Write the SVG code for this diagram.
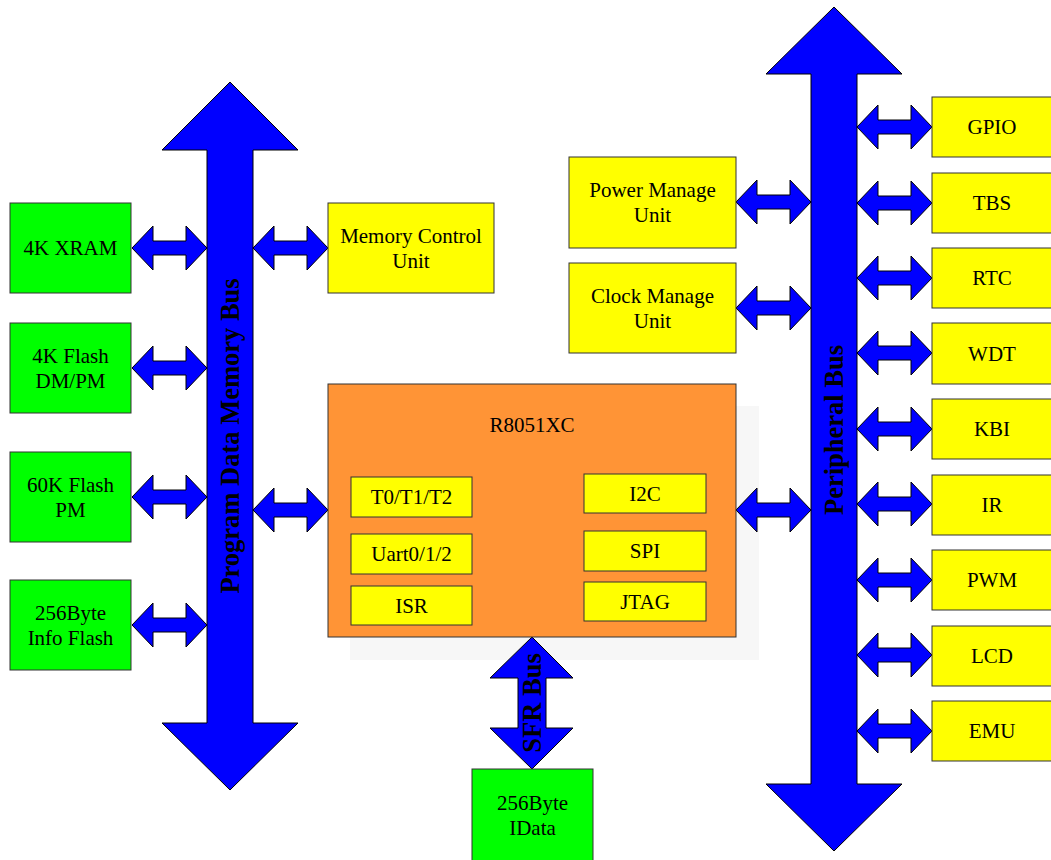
<svg xmlns="http://www.w3.org/2000/svg" xmlns:xlink="http://www.w3.org/1999/xlink" width="1051" height="860" viewBox="0 0 1051 860">
<style>
  .bus { fill: #0000ff; stroke: #000; stroke-width: 1; }
  .g { fill: #00ff00; stroke: #333; stroke-width: 1; }
  .y { fill: #ffff00; stroke: #333; stroke-width: 1; }
  .core { fill: #ff9436; stroke: #333; stroke-width: 1; }
  .t { font-family: "Liberation Serif", "Times New Roman", serif; font-size: 21px; fill: #000; text-anchor: middle; }
  .bt { font-family: "Liberation Serif", "Times New Roman", serif; font-size: 26.5px; font-weight: bold; fill: #000; text-anchor: middle; }
</style>
<defs>
  <path id="dbl" class="bus" d="M0,0 L21,-22 L21,-7 L54,-7 L54,-22 L75,0 L54,22 L54,7 L21,7 L21,22 Z"/>
</defs>
<rect width="1051" height="860" fill="#fff"/>

<g id="shadow">
  <rect x="350" y="406" width="409" height="254" fill="#f7f7f7"/>
</g>

<g id="connectors">
  <use xlink:href="#dbl" x="132" y="248"/>
  <use xlink:href="#dbl" x="132" y="368"/>
  <use xlink:href="#dbl" x="132" y="497"/>
  <use xlink:href="#dbl" x="132" y="625"/>
  <use xlink:href="#dbl" x="253" y="248"/>
  <use xlink:href="#dbl" x="253" y="510"/>
  <use xlink:href="#dbl" x="736" y="202"/>
  <use xlink:href="#dbl" x="736" y="308"/>
  <use xlink:href="#dbl" x="736" y="510"/>
  <use xlink:href="#dbl" x="857" y="127"/>
  <use xlink:href="#dbl" x="857" y="203"/>
  <use xlink:href="#dbl" x="857" y="278"/>
  <use xlink:href="#dbl" x="857" y="353"/>
  <use xlink:href="#dbl" x="857" y="429"/>
  <use xlink:href="#dbl" x="857" y="504"/>
  <use xlink:href="#dbl" x="857" y="580"/>
  <use xlink:href="#dbl" x="857" y="655"/>
  <use xlink:href="#dbl" x="857" y="731"/>
</g>

<g id="program-bus">
  <path class="bus" d="M230,82 L298,150 L253,150 L253,723 L298,723 L230,790 L162,723 L207,723 L207,150 L162,150 Z"/>
  <text class="bt" transform="translate(230,436) rotate(-90)" x="0" y="9">Program Data Memory Bus</text>
</g>

<g id="peripheral-bus">
  <path class="bus" d="M834,7 L902,74 L857,74 L857,784 L902,784 L834,851 L766,784 L811,784 L811,74 L766,74 Z"/>
  <text class="bt" transform="translate(834,430) rotate(-90)" x="0" y="9">Peripheral Bus</text>
</g>

<g id="sfr-bus">
  <path class="bus" d="M532,637 L573,678 L546,678 L546,728 L573,728 L532,769 L490,728 L518,728 L518,678 L490,678 Z"/>
  <text class="bt" transform="translate(532,703) rotate(-90)" x="0" y="9">SFR Bus</text>
</g>

<g id="xram">
  <rect class="g" x="10" y="203" width="121" height="90"/>
  <text class="t" x="70.5" y="255">4K XRAM</text>
</g>
<g id="flash4k">
  <rect class="g" x="10" y="323" width="121" height="90"/>
  <text class="t" x="70.5" y="362.5">4K Flash</text>
  <text class="t" x="70.5" y="387.5">DM/PM</text>
</g>
<g id="flash60k">
  <rect class="g" x="10" y="452" width="121" height="90"/>
  <text class="t" x="70.5" y="491.5">60K Flash</text>
  <text class="t" x="70.5" y="516.5">PM</text>
</g>
<g id="infoflash">
  <rect class="g" x="10" y="580" width="121" height="90"/>
  <text class="t" x="70.5" y="619.5">256Byte</text>
  <text class="t" x="70.5" y="644.5">Info Flash</text>
</g>

<g id="memctrl">
  <rect class="y" x="328" y="203" width="166" height="90"/>
  <text class="t" x="411" y="242.5">Memory Control</text>
  <text class="t" x="411" y="267.5">Unit</text>
</g>
<g id="power">
  <rect class="y" x="569" y="157" width="167" height="91"/>
  <text class="t" x="652.5" y="197">Power Manage</text>
  <text class="t" x="652.5" y="222">Unit</text>
</g>
<g id="clock">
  <rect class="y" x="569" y="263" width="167" height="90"/>
  <text class="t" x="652.5" y="302.5">Clock Manage</text>
  <text class="t" x="652.5" y="327.5">Unit</text>
</g>

<g id="core">
  <rect class="core" x="328" y="384" width="408" height="253"/>
  <text class="t" x="532" y="432">R8051XC</text>
</g>
<g id="timers">
  <rect class="y" x="351" y="477" width="121" height="40"/>
  <text class="t" x="411.5" y="504">T0/T1/T2</text>
</g>
<g id="uart">
  <rect class="y" x="351" y="534" width="121" height="40"/>
  <text class="t" x="411.5" y="561">Uart0/1/2</text>
</g>
<g id="isr">
  <rect class="y" x="351" y="586" width="121" height="39"/>
  <text class="t" x="411.5" y="612.5">ISR</text>
</g>
<g id="i2c">
  <rect class="y" x="584" y="474" width="122" height="39"/>
  <text class="t" x="645" y="500.5">I2C</text>
</g>
<g id="spi">
  <rect class="y" x="584" y="531" width="122" height="40"/>
  <text class="t" x="645" y="558">SPI</text>
</g>
<g id="jtag">
  <rect class="y" x="584" y="582" width="122" height="39"/>
  <text class="t" x="645" y="608.5">JTAG</text>
</g>

<g id="idata">
  <rect class="g" x="472" y="769" width="121" height="100"/>
  <text class="t" x="532.5" y="810">256Byte</text>
  <text class="t" x="532.5" y="835">IData</text>
</g>

<g id="gpio"><rect class="y" x="932" y="97" width="125" height="60"/><text class="t" x="992" y="134">GPIO</text></g>
<g id="tbs"><rect class="y" x="932" y="173" width="125" height="60"/><text class="t" x="992" y="210">TBS</text></g>
<g id="rtc"><rect class="y" x="932" y="248" width="125" height="60"/><text class="t" x="992" y="285">RTC</text></g>
<g id="wdt"><rect class="y" x="932" y="323" width="125" height="61"/><text class="t" x="992" y="360.5">WDT</text></g>
<g id="kbi"><rect class="y" x="932" y="399" width="125" height="60"/><text class="t" x="992" y="436">KBI</text></g>
<g id="ir"><rect class="y" x="932" y="475" width="125" height="60"/><text class="t" x="992" y="512">IR</text></g>
<g id="pwm"><rect class="y" x="932" y="550" width="125" height="60"/><text class="t" x="992" y="587">PWM</text></g>
<g id="lcd"><rect class="y" x="932" y="626" width="125" height="60"/><text class="t" x="992" y="663">LCD</text></g>
<g id="emu"><rect class="y" x="932" y="701" width="125" height="60"/><text class="t" x="992" y="738">EMU</text></g>
</svg>
